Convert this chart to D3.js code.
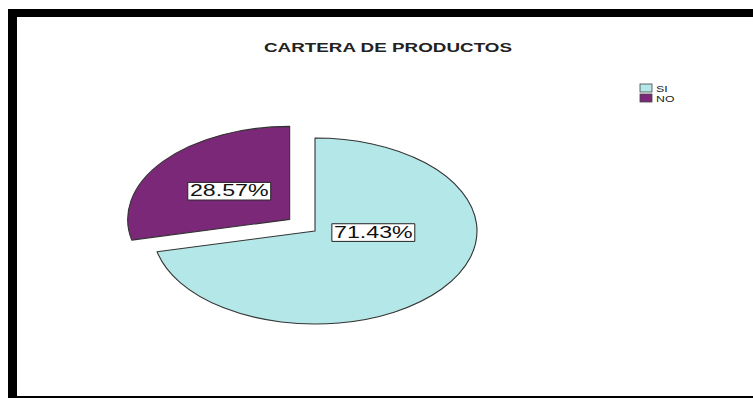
<!DOCTYPE html>
<html>
<head>
<meta charset="utf-8">
<script src="https://cdn.jsdelivr.net/npm/d3@7"></script>
<style>
  html, body { margin: 0; padding: 0; background: #fff; }
  svg { display: block; }
  text { font-family: "Liberation Sans", Arial, sans-serif; }
</style>
</head>
<body>
<svg id="chart" width="753" height="398"></svg>
<script>
// Chart data
const title = "CARTERA DE PRODUCTOS";
const categories = ["SI", "NO"];
const values = [71.43, 28.57];
const colors = ["#b4e7e8", "#7b2879"];
const exploded = [false, true];

const W = 753, H = 398;
const textStretch = 1.45; // horizontal stretch applied to all text
const svg = d3.select("#chart");

// Frame: heavy black band top and left, thin at bottom
svg.append("rect").attr("x", 0).attr("y", 0).attr("width", W).attr("height", H).attr("fill", "#fff");
svg.append("rect").attr("x", 8).attr("y", 9).attr("width", W - 8).attr("height", 8).attr("fill", "#000");
svg.append("rect").attr("x", 8).attr("y", 9).attr("width", 9).attr("height", H - 9).attr("fill", "#000");
svg.append("rect").attr("x", 8).attr("y", 396).attr("width", W - 8).attr("height", 2).attr("fill", "#000");

// Title
svg.append("g")
  .attr("transform", `translate(388,52) scale(${textStretch},1)`)
  .append("text")
  .attr("text-anchor", "middle")
  .attr("font-size", 13)
  .attr("font-weight", "bold")
  .attr("fill", "#222")
  .text(title);

// Pie geometry: drawn on a unit circle, then stretched into an ellipse
const cx = 315, cy = 231, rx = 162, ry = 93;
const R = 100;
const pie = d3.pie().sort(null).value(d => d)
  .startAngle(0).endAngle(2 * Math.PI);
const arcs = pie(values);
const arc = d3.arc().innerRadius(0).outerRadius(R);
const explodeFrac = 0.2;

const pieG = svg.append("g")
  .attr("transform", `translate(${cx},${cy}) scale(${rx / R},${ry / R})`);

arcs.forEach((a, i) => {
  const mid = (a.startAngle + a.endAngle) / 2;
  const off = exploded[i] ? explodeFrac * R : 0;
  const ox = Math.sin(mid) * off, oy = -Math.cos(mid) * off;
  pieG.append("path")
    .attr("d", arc(a))
    .attr("transform", `translate(${ox},${oy})`)
    .attr("fill", colors[i])
    .attr("stroke", "#333")
    .attr("stroke-width", 1.1)
    .attr("vector-effect", "non-scaling-stroke")
    .attr("stroke-linejoin", "round");
});

// Value labels in white boxes
const labelPos = [[0.36, 0.01], [-0.373, -0.31]]; // unit-circle anchors relative to slice centre
arcs.forEach((a, i) => {
  const mid = (a.startAngle + a.endAngle) / 2;
  const off = exploded[i] ? explodeFrac : 0;
  const lx = cx + (labelPos[i][0] + Math.sin(mid) * off) * rx;
  const ly = cy + (labelPos[i][1] - Math.cos(mid) * off) * ry;
  const g = svg.append("g").attr("transform", `translate(${lx},${ly}) scale(${textStretch},1)`);
  const t = g.append("text")
    .attr("text-anchor", "middle")
    .attr("dy", "0.36em")
    .attr("font-size", 16)
    .attr("fill", "#111")
    .text(values[i].toFixed(2) + "%");
  const bb = t.node().getBBox();
  g.insert("rect", "text")
    .attr("x", bb.x - 1.5).attr("y", bb.y + 0.5)
    .attr("width", bb.width + 3).attr("height", bb.height)
    .attr("fill", "#fff")
    .attr("stroke", "#222")
    .attr("stroke-width", 1)
    .attr("vector-effect", "non-scaling-stroke");
});

// Legend
const legend = svg.append("g").attr("transform", "translate(640,84)");
categories.forEach((c, i) => {
  const row = legend.append("g").attr("transform", `translate(0,${i * 10})`);
  row.append("rect")
    .attr("x", 0).attr("y", 0).attr("width", 12).attr("height", 8)
    .attr("fill", colors[i]).attr("stroke", "#444").attr("stroke-width", 0.8);
  row.append("g")
    .attr("transform", `translate(16,7.5) scale(${textStretch},1)`)
    .append("text")
    .attr("font-size", 8.5)
    .attr("fill", "#222")
    .text(c);
});
</script>
</body>
</html>
